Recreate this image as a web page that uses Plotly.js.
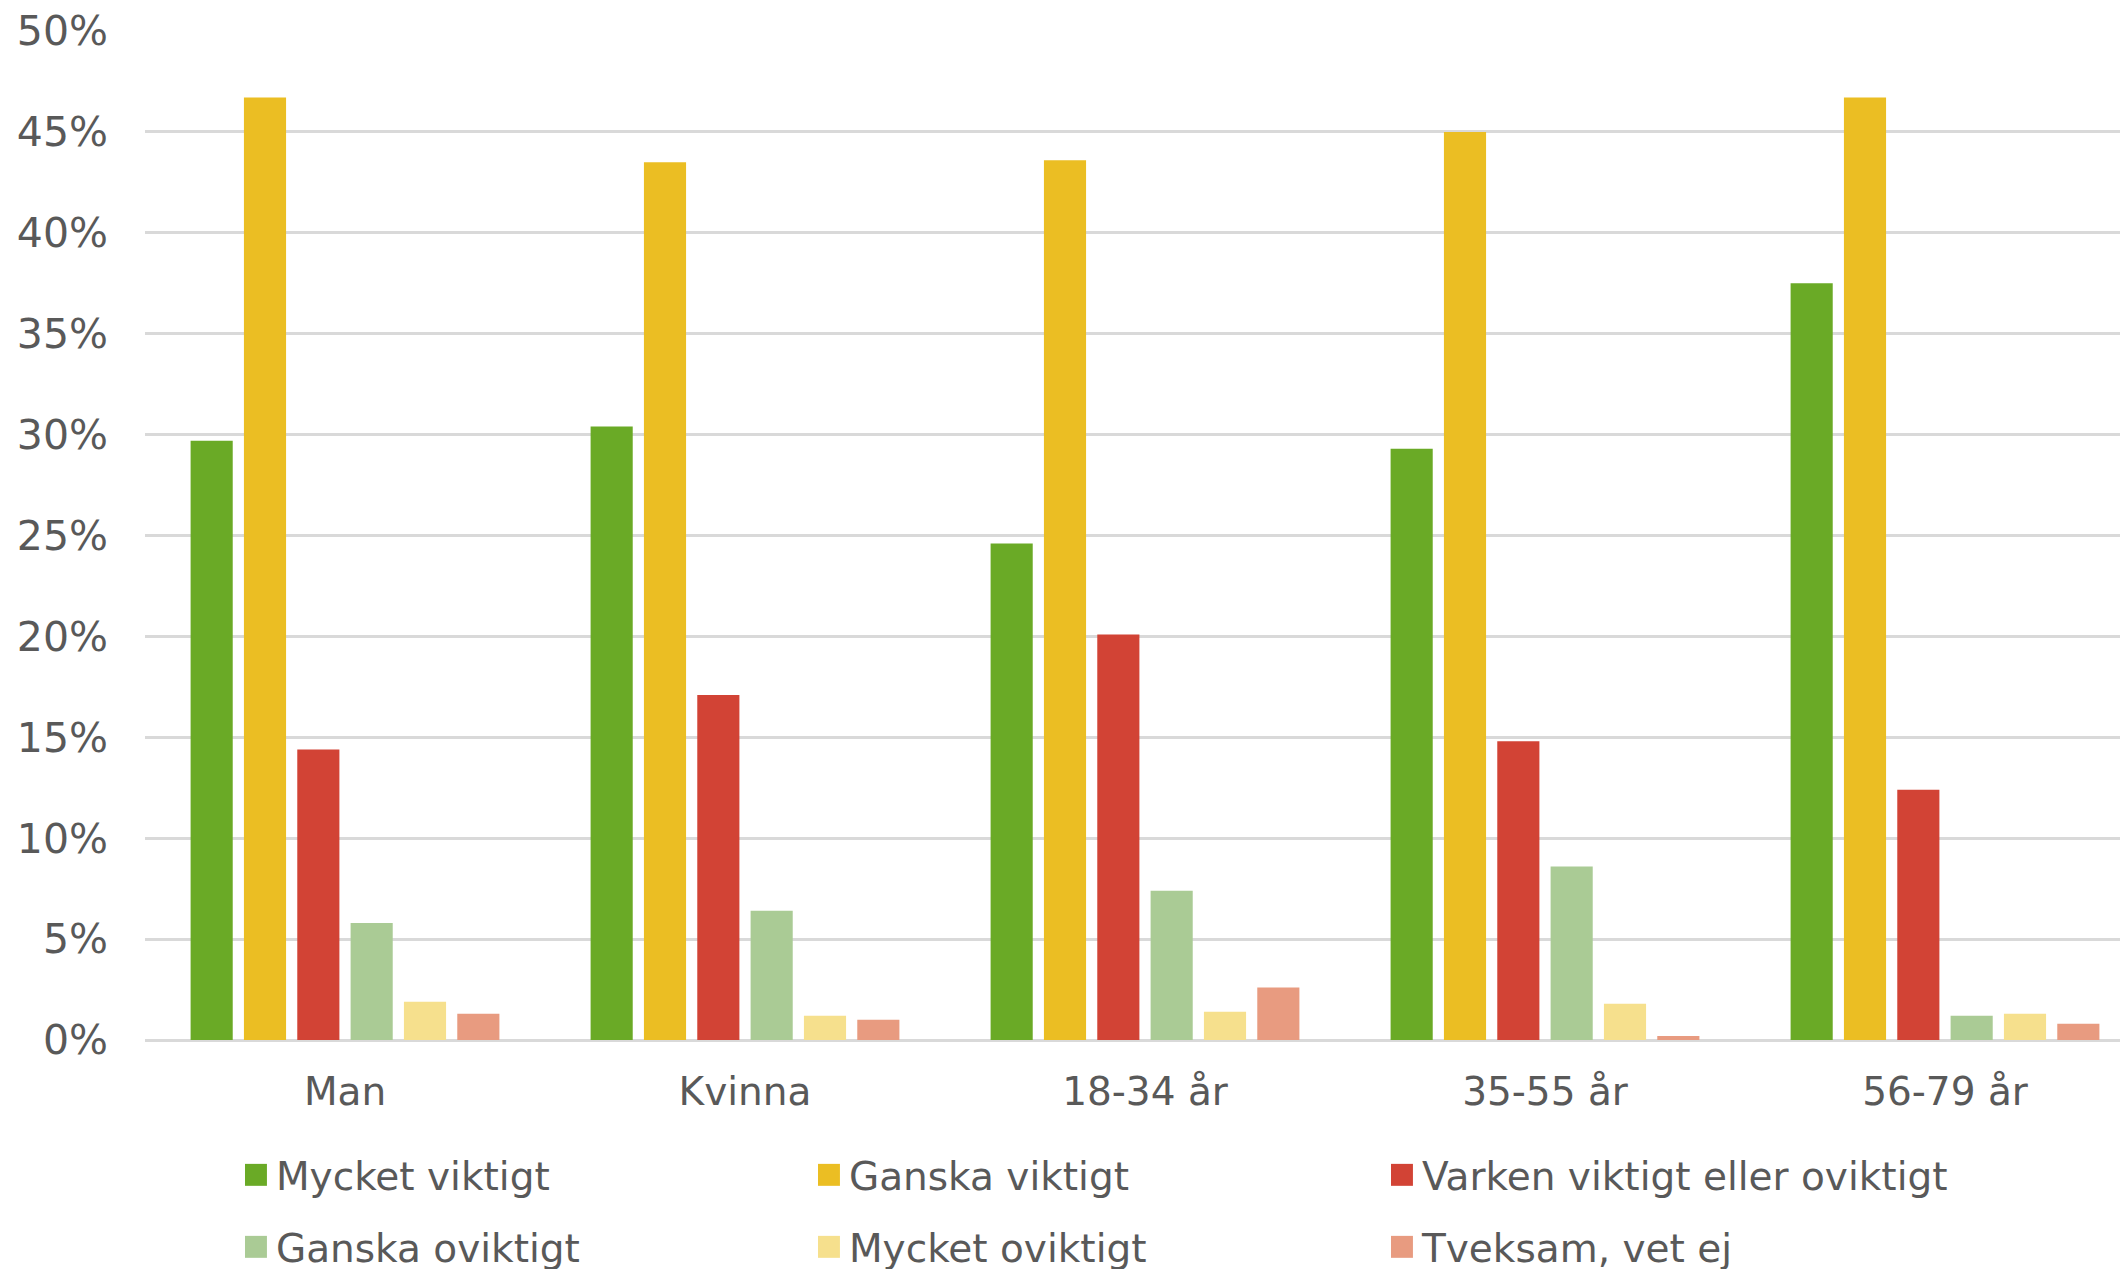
<!DOCTYPE html>
<html>
<head>
<meta charset="utf-8">
<script src="https://cdn.plot.ly/plotly-3.0.1.min.js"></script>
<style>
  html, body { margin: 0; padding: 0; background: #ffffff; overflow: hidden; }
  #chart { width: 2120px; height: 1269px; }
  .legendpoints path, path.legendbar {
    transform: translate(20px, 0px) scale(1.83) !important;
  }
</style>
</head>
<body>
<div id="chart"></div>
<script>
// Categories (x-axis)
const categories = ['Man', 'Kvinna', '18-34 år', '35-55 år', '56-79 år'];

// Series values (percent)
const mycketViktigt  = [29.7, 30.4, 24.6, 29.3, 37.5];
const ganskaViktigt  = [46.7, 43.5, 43.6, 45.0, 46.7];
const varken         = [14.4, 17.1, 20.1, 14.8, 12.4];
const ganskaOviktigt = [5.8, 6.4, 7.4, 8.6, 1.2];
const mycketOviktigt = [1.9, 1.2, 1.4, 1.8, 1.3];
const tveksam        = [1.3, 1.0, 2.6, 0.2, 0.8];

// Series names
const seriesNames = ['Mycket viktigt', 'Ganska viktigt', 'Varken viktigt eller oviktigt',
                     'Ganska oviktigt', 'Mycket oviktigt', 'Tveksam, vet ej'];

// Y tick values
const yTicks = [0, 5, 10, 15, 20, 25, 30, 35, 40, 45, 50];

const seriesValues = [mycketViktigt, ganskaViktigt, varken, ganskaOviktigt, mycketOviktigt, tveksam];
const colors = ['#6AAA26', '#EBBE23', '#D24335', '#AACB95', '#F6E08D', '#E89B80'];

const FONT = 'DejaVu Sans, Verdana, sans-serif';
const TXT = '#595959';

const traces = seriesValues.map((vals, i) => ({
  type: 'bar',
  name: seriesNames[i],
  x: categories,
  y: vals,
  marker: { color: colors[i], line: { width: 0 } },
  legend: i < 3 ? 'legend' : 'legend2',
  hoverinfo: 'skip'
}));

const legendBase = {
  orientation: 'h',
  xref: 'container',
  yref: 'container',
  x: 0.1113,
  xanchor: 'left',
  yanchor: 'middle',
  font: { family: FONT, size: 39, color: TXT },
  entrywidth: 528,
  entrywidthmode: 'pixels',
  traceorder: 'normal',
  bgcolor: 'rgba(0,0,0,0)',
  borderwidth: 0
};

const layout = {
  width: 2120,
  height: 1269,
  margin: { l: 145, r: 0, t: 31, b: 229, pad: 0 },
  paper_bgcolor: '#ffffff',
  plot_bgcolor: '#ffffff',
  font: { family: FONT, size: 39, color: TXT },
  barmode: 'group',
  bargap: 0.2,
  bargroupgap: 0.21,
  showlegend: true,
  xaxis: {
    type: 'category',
    range: [-0.5, 4.4375],
    showgrid: false,
    showline: false,
    zeroline: false,
    ticks: '',
    ticklabelstandoff: 25,
    tickfont: { family: FONT, size: 39, color: TXT },
    fixedrange: true
  },
  yaxis: {
    range: [0, 50],
    tickvals: yTicks,
    ticktext: yTicks.map(v => v + '%'),
    showgrid: true,
    gridcolor: '#D9D9D9',
    gridwidth: 3,
    zeroline: true,
    zerolinecolor: '#D9D9D9',
    zerolinewidth: 3,
    showline: false,
    ticks: '',
    ticklabelstandoff: 36,
    tickfont: { family: FONT, size: 41, color: TXT },
    fixedrange: true
  },
  legend: Object.assign({}, legendBase, { y: 1 - 1175 / 1269 }),
  legend2: Object.assign({}, legendBase, { y: 1 - 1247 / 1269 })
};

Plotly.newPlot('chart', traces, layout, { displayModeBar: false, staticPlot: true, responsive: false });
</script>
</body>
</html>
